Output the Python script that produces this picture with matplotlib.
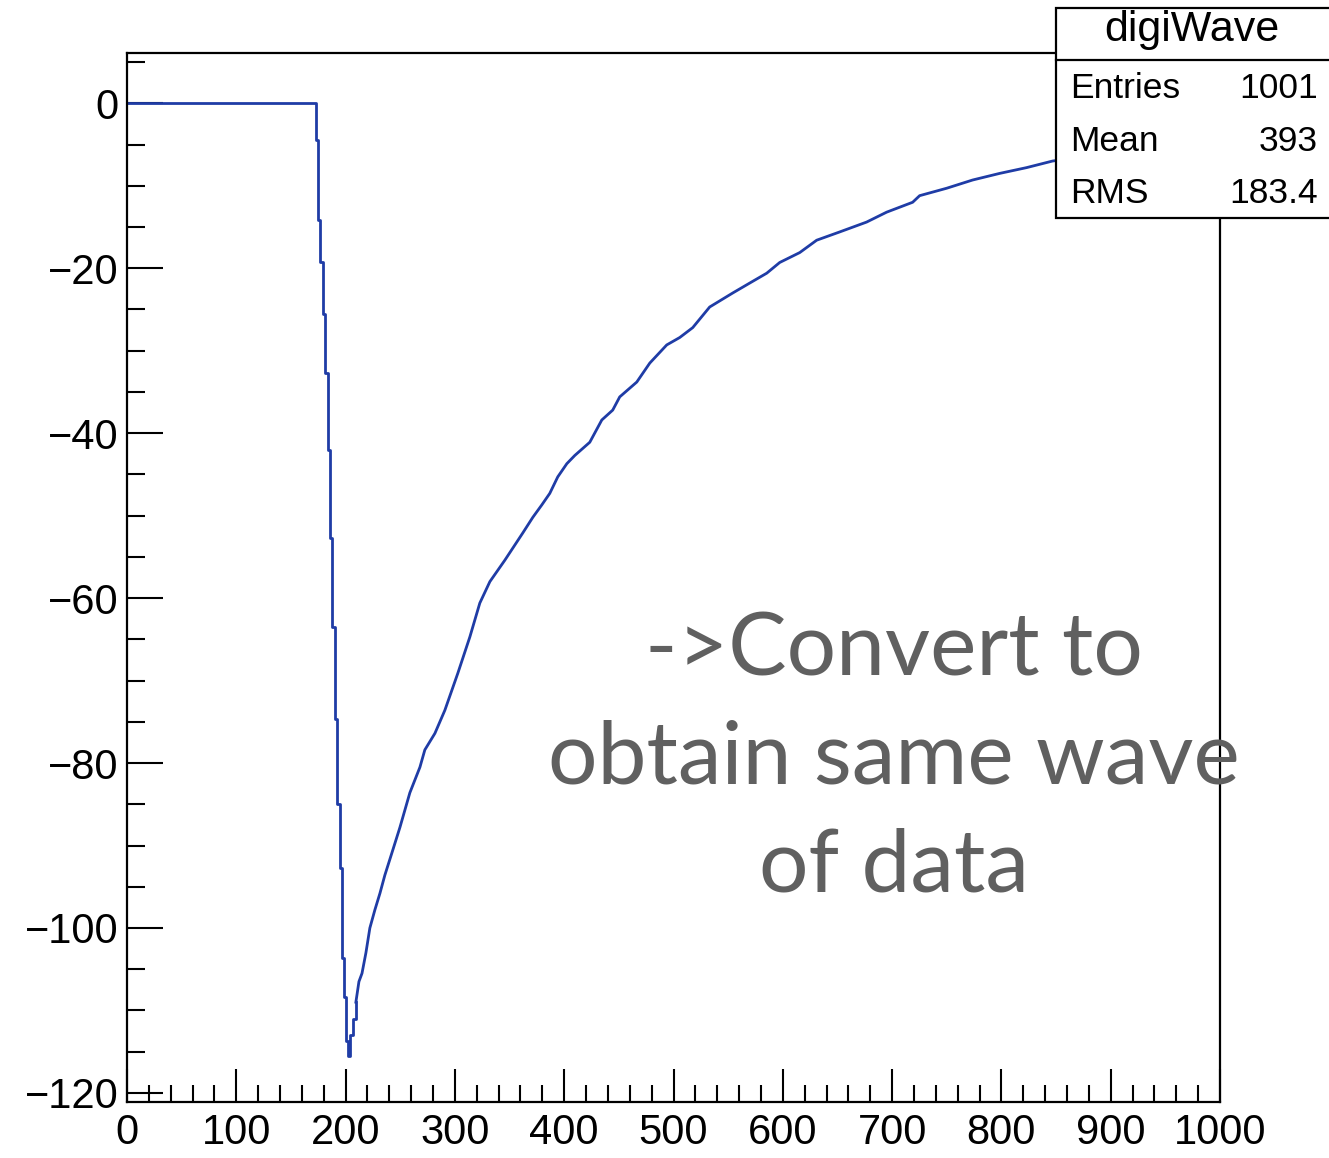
import matplotlib
matplotlib.use("Agg")
import matplotlib.pyplot as plt
from matplotlib.patches import Rectangle
from matplotlib.lines import Line2D
from matplotlib.ticker import MultipleLocator

# ---- data (sample index vs amplitude) ----
edge_t = [0, 172.8, 174.9, 177.0, 179.2, 181.5, 183.5, 185.6, 187.7, 190.2,
          192.3, 194.6, 196.9, 198.7, 200.5, 202.4, 204.3, 206.4, 209.4]
edge_amp = [0, -4.5, -14.2, -19.3, -25.5, -32.7, -42.0, -52.7, -63.5, -74.7,
            -85.0, -92.7, -103.6, -108.4, -113.7, -115.5, -113.0, -111.0, -109.0]

tail_t = [209.4, 212.2, 215.0, 218.6, 222.2, 226.8, 231.4, 235.9, 243.3, 249.7,
          258.8, 268.0, 272.5, 281.7, 290.8, 302.7, 313.7, 322.8, 332.0, 345.7,
          362.1, 371.3, 379.5, 386.8, 394.1, 402.4, 409.7, 423.4, 434.4, 444.4,
          450.8, 466.4, 478.3, 493.8, 505.7, 517.6, 533.1, 554.2, 569.7, 585.3,
          597.2, 615.5, 631.0, 652.0, 676.7, 695.0, 718.8, 725.2, 749.9, 773.7,
          798.4, 823.0, 846.8, 880.0, 920.0, 960.0, 1000.0]
tail_amp = [-109.0, -106.5, -105.5, -103.0, -100.0, -97.8, -95.8, -93.6, -90.5, -87.8,
            -83.6, -80.5, -78.4, -76.4, -73.6, -69.1, -64.7, -60.6, -58.0, -55.4,
            -52.1, -50.2, -48.7, -47.3, -45.3, -43.7, -42.7, -41.1, -38.4, -37.2,
            -35.6, -33.8, -31.5, -29.3, -28.4, -27.2, -24.7, -23.0, -21.8, -20.6,
            -19.3, -18.1, -16.6, -15.6, -14.4, -13.2, -12.0, -11.2, -10.3, -9.3,
            -8.5, -7.8, -7.0, -6.4, -5.7, -5.1, -4.6]

x_ticks = [0, 100, 200, 300, 400, 500, 600, 700, 800, 900, 1000]
y_ticks = [-120, -100, -80, -60, -40, -20, 0]

hist_title = "digiWave"
stat_names = ["Entries", "Mean", "RMS"]
stat_values = ["1001", "393", "183.4"]

overlay_lines = ["->Convert to", "obtain same wave", "of data"]

# ---- figure ----
W, H = 1329, 1158
DPI = 100
plt.rcParams['font.family'] = ['Liberation Sans', 'DejaVu Sans']
fig = plt.figure(figsize=(W / DPI, H / DPI), dpi=DPI)
fig.patch.set_facecolor('white')


def fx(px):
    return px / W


def fy(py):
    return 1 - py / H


ax_l, ax_r, ax_t, ax_b = 127, 1220, 53, 1102
ax = fig.add_axes([fx(ax_l), fy(ax_b), fx(ax_r - ax_l), (ax_b - ax_t) / H])

blue = '#1f3ca6'
ax.plot(edge_t, edge_amp, drawstyle='steps-post', color=blue, lw=2.0, zorder=3)
ax.plot(tail_t, tail_amp, color=blue, lw=2.0, zorder=3)

ax.set_xlim(0, 1000)
ax.set_ylim(-121.1, 6.1)

ax.set_xticks(x_ticks)
ax.set_yticks(y_ticks)
ax.set_xticklabels([str(v) for v in x_ticks])
ax.set_yticklabels([str(v).replace('-', '\u2212') for v in y_ticks])
ax.xaxis.set_minor_locator(MultipleLocator(20))
ax.yaxis.set_minor_locator(MultipleLocator(5))

ax.tick_params(axis='both', which='both', direction='in', top=False, right=False,
               colors='black', width=1.5)
ax.tick_params(axis='x', which='major', length=24, labelsize=30, pad=8)
ax.tick_params(axis='x', which='minor', length=12)
ax.tick_params(axis='y', which='major', length=26, labelsize=30, pad=6)
ax.tick_params(axis='y', which='minor', length=13)
for sp in ax.spines.values():
    sp.set_linewidth(1.6)
    sp.set_color('black')
    sp.set_zorder(5)

# ---- stats box ----
box_l, box_t, box_b, box_r = 1056, 8, 218, 1340
fig.add_artist(Rectangle((fx(box_l), fy(box_b)), fx(box_r - box_l), (box_b - box_t) / H,
                         facecolor='white', edgecolor='black', lw=1.6, zorder=10,
                         transform=fig.transFigure))
fig.add_artist(Line2D([fx(box_l), fx(box_r)], [fy(60), fy(60)], color='black', lw=1.6,
                      zorder=11, transform=fig.transFigure))
fig.text(fx(1192), fy(41), hist_title, ha='center', va='baseline', fontsize=31, zorder=12)
rows_y = [98, 151, 203]
for name, val, yb in zip(stat_names, stat_values, rows_y):
    fig.text(fx(1070), fy(yb), name, ha='left', va='baseline', fontsize=25.5, zorder=12)
    fig.text(fx(1318), fy(yb), val, ha='right', va='baseline', fontsize=25.5, zorder=12)

# ---- overlay text ----
baselines = [675, 783, 891]
for line, yb in zip(overlay_lines, baselines):
    fig.text(fx(894), fy(yb), line, ha='center', va='baseline', fontsize=63,
             color='#606060', family=['Lato', 'DejaVu Sans'], zorder=20)

fig.savefig('out.png', dpi=DPI, facecolor='white')
